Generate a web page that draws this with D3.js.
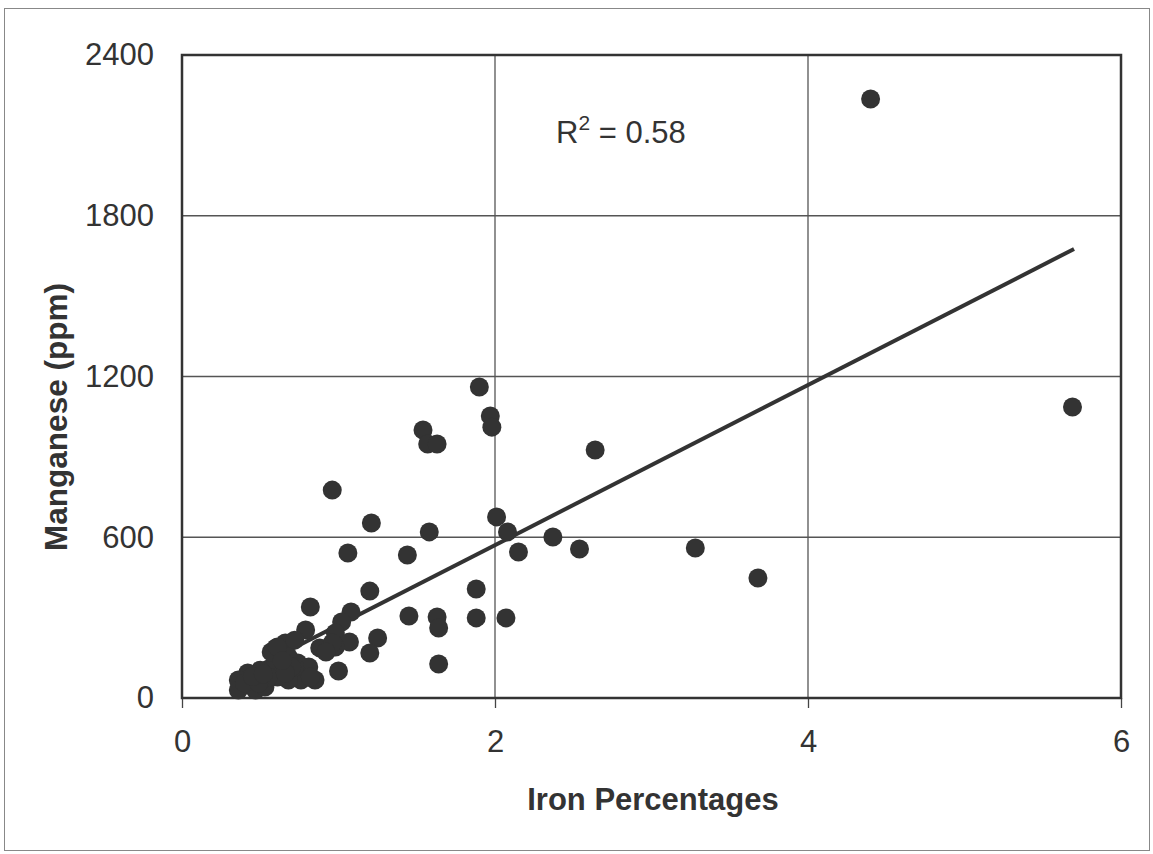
<!DOCTYPE html>
<html>
<head>
<meta charset="utf-8">
<script src="https://cdn.jsdelivr.net/npm/d3@7"></script>
<style>
  html, body { margin: 0; padding: 0; background: #fff; }
  svg { display: block; }
  text { font-family: "Liberation Sans", Arial, sans-serif; fill: #333; }
</style>
</head>
<body>
<svg id="chart" width="1153" height="854"></svg>
<script>
// ---- data ----
const ironPct = [
  4.40, 5.69, 2.64, 3.28, 3.68, 2.54, 2.37, 2.15, 2.08, 2.01,
  1.90, 1.97, 1.98, 1.54, 1.57, 1.63, 0.96, 1.21, 1.58, 1.06,
  1.44, 1.20, 1.88, 1.08, 1.45, 1.63, 1.64, 1.88, 2.07, 1.25,
  1.20, 1.64, 1.00, 1.02, 0.98, 1.07, 0.98, 0.82, 0.79, 0.88,
  0.85, 0.60, 0.66, 0.72, 0.74, 0.68, 0.59, 0.50, 0.42, 0.36,
  0.36, 0.47, 0.53, 0.76, 0.68, 0.61, 0.81, 0.72, 0.55, 0.40,
  0.57, 0.61, 0.49, 0.70, 0.66, 0.82, 0.96, 0.92, 0.64, 0.45,
  0.52
];
const manganesePpm = [
  2236, 1086, 926, 560, 448, 556, 601, 545, 620, 676,
  1161, 1053, 1011, 1000, 948, 948, 776, 653, 620, 541,
  534, 399, 407, 321, 306, 302, 261, 299, 299, 224,
  168, 127, 101, 284, 243, 209, 190, 340, 254, 187,
  67, 187, 205, 216, 131, 153, 116, 104, 93, 67,
  30, 30, 41, 67, 67, 78, 116, 116, 78, 56,
  172, 190, 56, 116, 93, 78, 205, 172, 140, 80,
  90
];
const trendX = [0.35, 5.7];
const trendY = [78, 1676];
const xTicks = [0, 2, 4, 6];
const yTicks = [0, 600, 1200, 1800, 2400];
const xTitle = "Iron Percentages";
const yTitle = "Manganese (ppm)";
const r2Label = "0.58";

// ---- layout ----
const svg = d3.select("#chart");
const plot = { left: 182, right: 1121, top: 55, bottom: 698 };

const x = d3.scaleLinear().domain([0, 6]).range([plot.left, plot.right]);
const y = d3.scaleLinear().domain([0, 2400]).range([plot.bottom, plot.top]);

// outer border
svg.append("rect")
  .attr("x", 4.5).attr("y", 8.5).attr("width", 1145).attr("height", 842)
  .attr("fill", "none").attr("stroke", "#888").attr("stroke-width", 1);

// gridlines
svg.append("g").selectAll("line").data(yTicks.slice(1, -1)).join("line")
  .attr("x1", plot.left).attr("x2", plot.right)
  .attr("y1", d => y(d)).attr("y2", d => y(d))
  .attr("stroke", "#555").attr("stroke-width", 1.3);
svg.append("g").selectAll("line").data(xTicks.slice(1, -1)).join("line")
  .attr("y1", plot.top).attr("y2", plot.bottom)
  .attr("x1", d => x(d)).attr("x2", d => x(d))
  .attr("stroke", "#555").attr("stroke-width", 1.3);

// x axis (ticks below)
const xAxis = d3.axisBottom(x).tickValues(xTicks).tickSize(10).tickPadding(22)
  .tickFormat(d3.format("d"));
const gx = svg.append("g").attr("transform", `translate(0,${plot.bottom})`).call(xAxis);
gx.select(".domain").remove();
gx.selectAll(".tick line").attr("stroke", "#444").attr("stroke-width", 1.3);
gx.selectAll(".tick text").attr("font-size", 31).attr("fill", "#333")
  .style("font-family", "'Liberation Sans', Arial, sans-serif");

// y axis labels
const yAxis = d3.axisLeft(y).tickValues(yTicks).tickSize(0).tickPadding(28)
  .tickFormat(d3.format("d"));
const gy = svg.append("g").attr("transform", `translate(${plot.left},0)`).call(yAxis);
gy.select(".domain").remove();
gy.selectAll(".tick text").attr("font-size", 31).attr("fill", "#333")
  .style("font-family", "'Liberation Sans', Arial, sans-serif");

// frame
svg.append("rect")
  .attr("x", plot.left).attr("y", plot.top)
  .attr("width", plot.right - plot.left).attr("height", plot.bottom - plot.top)
  .attr("fill", "none").attr("stroke", "#333").attr("stroke-width", 2.5);

// trend line
svg.append("line")
  .attr("x1", x(trendX[0])).attr("y1", y(trendY[0]))
  .attr("x2", x(trendX[1])).attr("y2", y(trendY[1]))
  .attr("stroke", "#333").attr("stroke-width", 4);

// points
const pts = ironPct.map((v, i) => ({ x: v, y: manganesePpm[i] }));
svg.append("g").selectAll("circle").data(pts).join("circle")
  .attr("cx", d => x(d.x)).attr("cy", d => y(d.y)).attr("r", 9.5)
  .attr("fill", "#333");

// R² label
const rt = svg.append("text").attr("x", 556).attr("y", 143).attr("font-size", 31);
rt.append("tspan").text("R");
rt.append("tspan").attr("font-size", 21).attr("dy", -13).text("2");
rt.append("tspan").attr("dy", 13).text(" = " + r2Label);

// axis titles
svg.append("text").attr("x", 653).attr("y", 810).attr("text-anchor", "middle")
  .attr("font-size", 31).attr("font-weight", "bold").text(xTitle);
svg.append("text").attr("transform", "translate(67,417) rotate(-90)")
  .attr("text-anchor", "middle").attr("font-size", 31.5).attr("font-weight", "bold")
  .text(yTitle);
</script>
</body>
</html>
